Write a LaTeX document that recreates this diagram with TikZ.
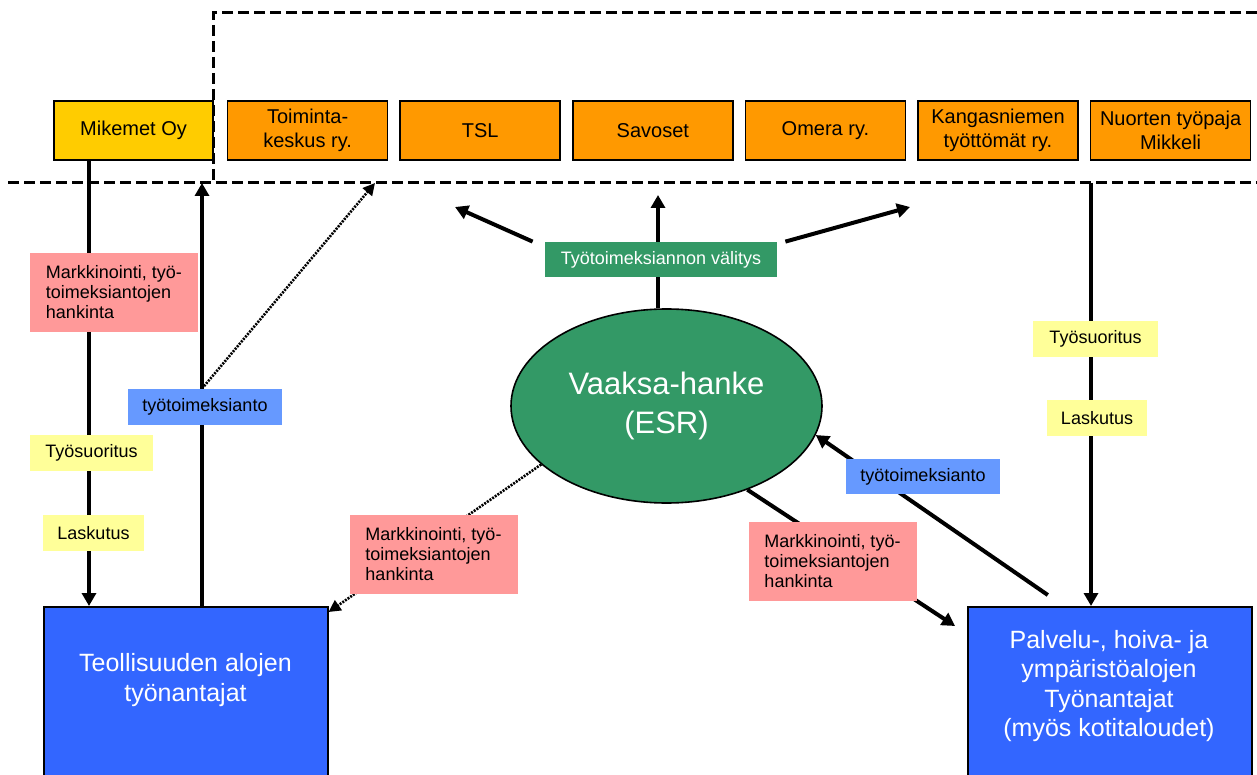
\documentclass[tikz,border=0pt]{standalone}
\usepackage{fontspec}
\setmainfont{Liberation Sans}
\usepackage{tikz}
\usetikzlibrary{arrows.meta,positioning,shapes.geometric,backgrounds}
\definecolor{mikyellow}{HTML}{FFCC00}
\definecolor{orgorange}{HTML}{FF9900}
\definecolor{notepink}{HTML}{FF9999}
\definecolor{workyellow}{HTML}{FFFF99}
\definecolor{taskblue}{HTML}{6699FF}
\definecolor{esrgreen}{HTML}{339966}
\definecolor{empblue}{HTML}{3366FF}

\begin{document}
\begin{tikzpicture}[x=0.5pt,y=-0.5pt,
org/.style={rectangle,draw,line width=0.8pt,fill=orgorange,minimum width=80pt,minimum height=29.5pt,inner sep=1pt,align=center,font=\fontsize{10}{12}\selectfont},
employer/.style={rectangle,draw,line width=0.8pt,fill=empblue,minimum width=142pt,minimum height=95pt,anchor=north west},
emptext/.style={text=white,align=center,font=\fontsize{12.5}{14.8}\selectfont},
tag/.style={rectangle,inner sep=0pt,minimum height=18pt,font=\fontsize{9}{10}\selectfont},
note/.style={tag,fill=notepink,minimum width=84pt,minimum height=39.5pt,align=left},
paths/.style={-{Triangle[length=6.5pt,width=7pt]},line width=2pt},
dpaths/.style={-{Triangle[length=6pt,width=6pt]},line width=1.3pt,dash pattern=on 1pt off 0.6pt},
region/.style={line width=1.5pt,dash pattern=on 5.5pt off 2.5pt},
]
\useasboundingbox (0,0) rectangle (1257,775);

% yritykset ylhaalla
\node [org,fill=mikyellow,minimum width=79.5pt] (mik) at (133.5,130.5) {Mikemet Oy};
\node [org] (toim) [right=6.5pt of mik] {Toiminta-\\keskus ry.};
\node [org] (tsl) [right=5.5pt of toim] {TSL};
\node [org] (sav) [right=5.5pt of tsl] {Savoset};
\node [org] (ome) [right=5.5pt of sav] {Omera ry.};
\node [org] (kang) [right=5.5pt of ome] {Kangasniemen\\työttömät ry.};
\node [org] (nuo) [right=5.5pt of kang] {Nuorten työpaja\\Mikkeli};

% hanke
\node [ellipse,draw,line width=0.8pt,fill=esrgreen,minimum width=155.5pt,minimum height=97pt,inner sep=0pt,text=white,align=center,font=\fontsize{15.5}{19.5}\selectfont] (vaaksa) at (666.5,406) {Vaaksa-hanke\\(ESR)};

% tyonantajat
\node [employer] (teol) at (43,606) {};
\node [emptext] (teoltxt) at (185.5,680) {Teollisuuden alojen\\työnantajat};
\node [employer] (palv) at (967,606) {};
\node [emptext] (palvtxt) at (1109,686) {Palvelu-, hoiva- ja\\ympäristöalojen\\Työnantajat\\(myös kotitaloudet)};

% selitteet
\node [tag,fill=esrgreen,text=white,minimum width=116pt,minimum height=17.5pt] (valit) at (661,259.5) {Työtoimeksiannon välitys};
\node [note] (markL) at (114,292) {Markkinointi, työ-\\toimeksiantojen\\hankinta};
\node [tag,fill=workyellow,minimum width=61.5pt] (tyoL) at (91.5,453) {Työsuoritus};
\node [tag,fill=workyellow,minimum width=50.5pt] (lasL) at (93.5,533) {Laskutus};
\node [tag,fill=taskblue,minimum width=77pt] (tmL) at (205,407) {työtoimeksianto};
\node [note] (markM) at (433.5,554) {Markkinointi, työ-\\toimeksiantojen\\hankinta};
\node [note] (markR) at (832.5,561) {Markkinointi, työ-\\toimeksiantojen\\hankinta};
\node [tag,fill=workyellow,minimum width=62.5pt] (tyoR) at (1095.5,339) {Työsuoritus};
\node [tag,fill=workyellow,minimum width=50pt] (lasR) at (1097,418) {Laskutus};
\node [tag,fill=taskblue,minimum width=77pt,minimum height=17.5pt] (tmR) at (923,476.5) {työtoimeksianto};

\coordinate (regW) at (8,183);
\coordinate (regE) at (1257,183);
\coordinate (regNW) at (213,13);
\coordinate (regNE) at (1257,13);
\coordinate (downL) at (89,183);
\coordinate (upL) at (202,183);
\coordinate (downR) at (1091,183);
\coordinate (toToim) at (375,183);
\coordinate (toTsl) at (455,207);
\coordinate (toSav) at (658,195);
\coordinate (toKang) at (910,207);

\begin{scope}[on background layer]
\draw [region] (regW) -- (regE);
\draw [region] (regNE) -- (regNW) -- (regNW |- regW);

\draw [paths] (mik.south -| downL) -- (teol.north -| downL);
\draw [paths] (teol.north -| upL) -- (upL);
\draw [dpaths] (tmL.north -| upL) -- (toToim);
\draw [paths] (downR) -- (palv.north -| downR);

\draw [paths] (vaaksa.north -| toSav) -- (toSav);
\draw [paths] ([xshift=-6pt]valit.north west) -- (toTsl);
\draw [paths] ([xshift=4pt]valit.north east) -- (toKang);

\draw [dpaths] (vaaksa.205) -- ([yshift=-3pt]teol.north east);
\draw [paths] (vaaksa.314) -- ([xshift=-6pt,yshift=-10pt]palv.north west);
\draw [paths] ([xshift=-31pt,yshift=5.5pt]palv.north) -- (vaaksa.-11);
\end{scope}

\end{tikzpicture}
\end{document}
